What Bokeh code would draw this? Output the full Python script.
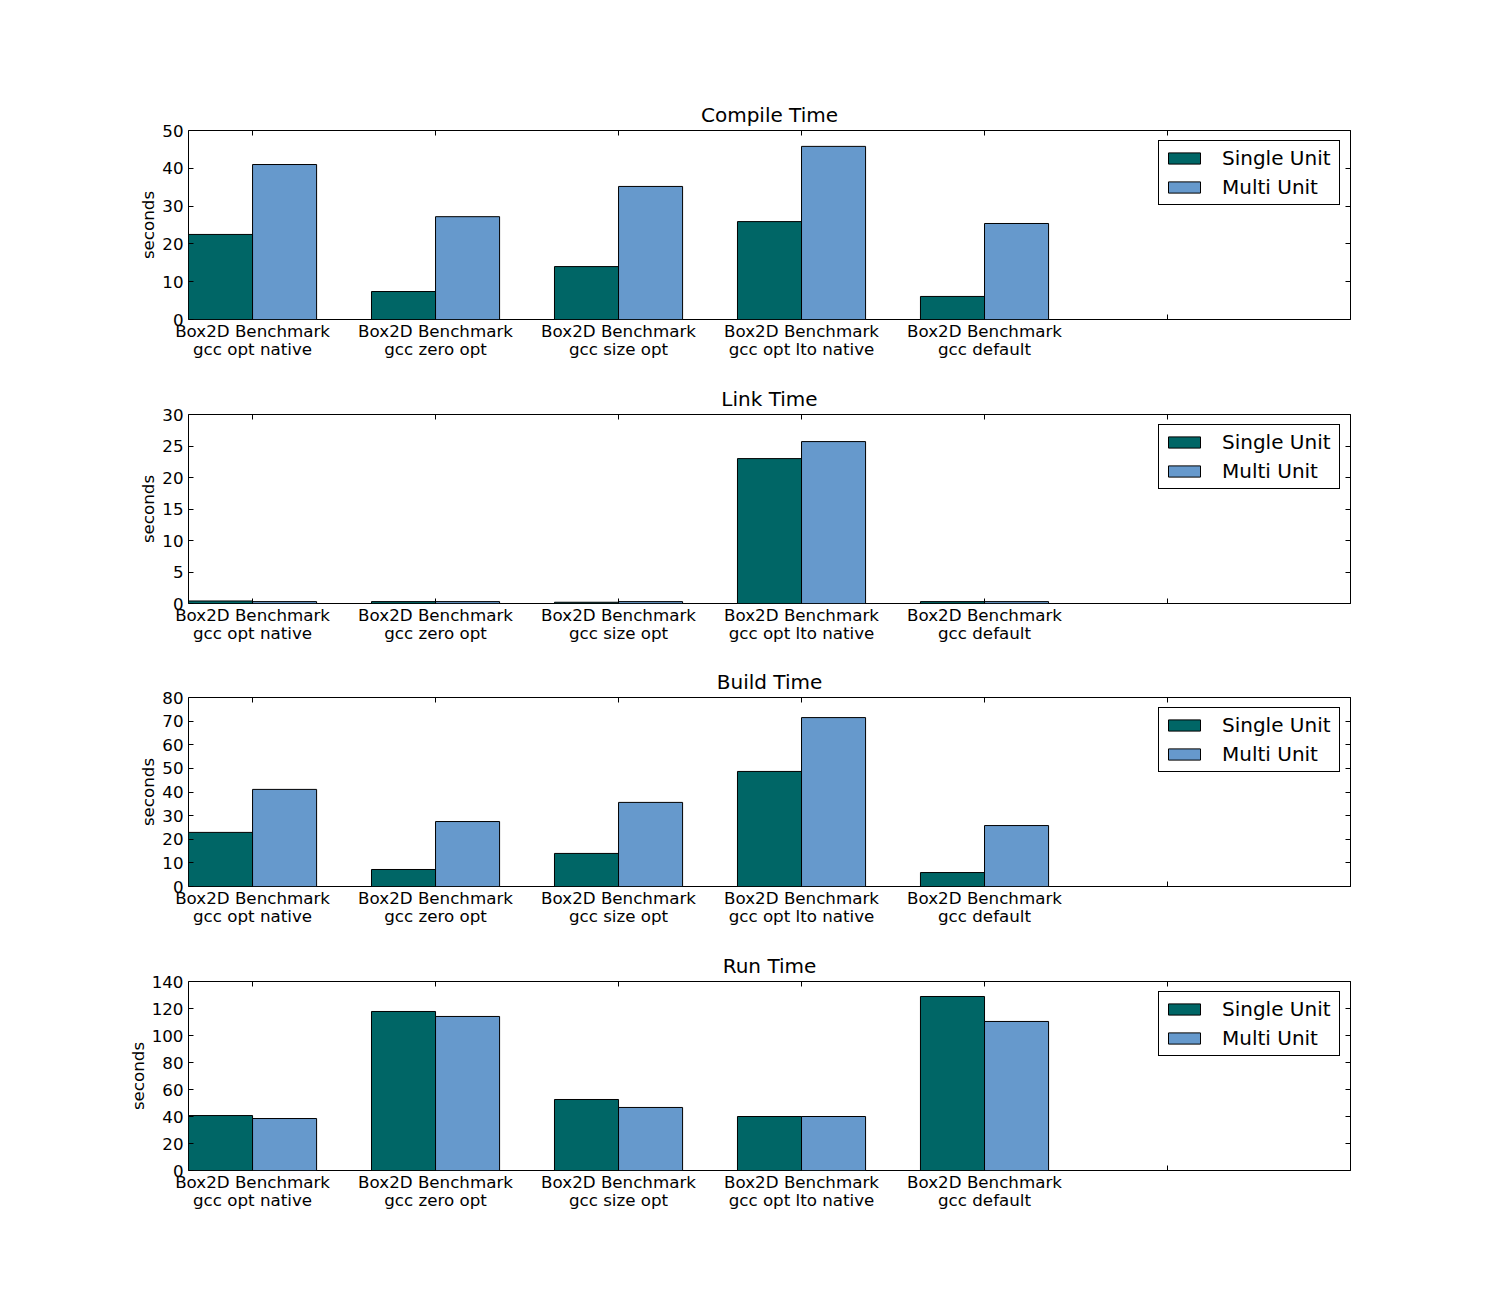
from bokeh.plotting import figure
from bokeh.models import (Range1d, FixedTicker, LinearAxis, Legend, LegendItem,
                          ColumnDataSource, CustomJSTickFormatter)
from bokeh.layouts import column
from bokeh.transform import dodge
from bokeh.embed import file_html
from bokeh.resources import INLINE

categories = ["Box2D Benchmark\ngcc opt native", "Box2D Benchmark\ngcc zero opt",
              "Box2D Benchmark\ngcc size opt", "Box2D Benchmark\ngcc opt lto native",
              "Box2D Benchmark\ngcc default", "", ""]
series_names = ["Single Unit", "Multi Unit"]

compile_single = [22.5, 7.4, 14.0, 25.9, 6.1, 0, 0]
compile_multi = [41.0, 27.2, 35.2, 45.8, 25.4, 0, 0]
link_single = [0.4, 0.3, 0.2, 23.0, 0.3, 0, 0]
link_multi = [0.3, 0.3, 0.3, 25.7, 0.3, 0, 0]
build_single = [22.9, 7.2, 14.0, 48.7, 5.9, 0, 0]
build_multi = [41.1, 27.5, 35.6, 71.5, 25.8, 0, 0]
run_single = [40.7, 117.8, 52.6, 40.0, 128.9, 0, 0]
run_multi = [38.5, 114.1, 46.7, 40.0, 110.4, 0, 0]

titles = ["Compile Time", "Link Time", "Build Time", "Run Time"]
y_max = [50, 30, 80, 140]
y_step = [10, 5, 10, 20]

FONT = "DejaVu Sans"
C_SINGLE = "#006666"
C_MULTI = "#6699CC"
BAR_W = 0.35

top_borders = [130, 45, 44, 45]


def make_panel(title, single, multi, ymax, ystep, top_border):
    idx = list(range(len(categories)))
    src = ColumnDataSource(dict(x=idx, single=single, multi=multi))
    p = figure(frame_width=1162, frame_height=189, min_border_left=188, min_border_right=140,
               min_border_top=top_border, min_border_bottom=50,
               x_range=Range1d(-BAR_W, len(categories) - 1), y_range=Range1d(0, ymax),
               output_backend="svg", toolbar_location=None, title=title)
    p.title.text_font = FONT
    p.title.text_font_size = "20px"
    p.title.text_font_style = "normal"
    p.title.align = "center"
    p.title.text_color = "black"
    p.title.standoff = 8
    p.grid.visible = False
    p.outline_line_color = "black"
    p.outline_line_width = 1
    p.outline_line_alpha = 1
    p.background_fill_color = "white"

    r1 = p.vbar(x=dodge("x", -BAR_W / 2), top="single", width=BAR_W, source=src,
                fill_color=C_SINGLE, line_color="black", line_width=1)
    r2 = p.vbar(x=dodge("x", BAR_W / 2), top="multi", width=BAR_W, source=src,
                fill_color=C_MULTI, line_color="black", line_width=1)

    xt = FixedTicker(ticks=idx)
    yt = FixedTicker(ticks=list(range(0, ymax + 1, ystep)))
    overrides = {i: categories[i] for i in idx}

    for ax in p.xaxis:
        ax.ticker = xt
        ax.major_label_overrides = overrides
    for ax in p.yaxis:
        ax.ticker = yt
        ax.axis_label = "seconds"

    blank = CustomJSTickFormatter(code="return ''")
    p.add_layout(LinearAxis(ticker=xt, formatter=blank), "above")
    p.add_layout(LinearAxis(ticker=yt, formatter=blank), "right")

    for ax in p.axis:
        ax.axis_line_color = None
        ax.major_tick_in = 5
        ax.major_tick_out = 0
        ax.major_tick_line_color = "black"
        ax.minor_tick_line_color = None
        ax.major_label_text_font = FONT
        ax.major_label_text_color = "black"
        ax.axis_label_text_font = FONT
        ax.axis_label_text_font_size = "16.7px"
        ax.axis_label_text_font_style = "normal"
        ax.axis_label_text_color = "black"
    p.below[0].major_label_text_font_size = "16.7px"
    p.below[0].major_label_text_line_height = 0.93
    p.below[0].major_label_standoff = 1
    p.left[0].major_label_text_font_size = "16.7px"
    p.left[0].major_label_standoff = 5
    p.left[0].axis_label_standoff = 1
    p.above[0].major_label_standoff = 0
    p.right[0].major_label_standoff = 0

    legend = Legend(items=[LegendItem(label=series_names[0], renderers=[r1]),
                           LegendItem(label=series_names[1], renderers=[r2])],
                    location="top_right")
    legend.label_text_font = FONT
    legend.label_text_font_size = "20px"
    legend.label_text_color = "black"
    legend.border_line_color = "black"
    legend.border_line_width = 1
    legend.border_line_alpha = 1
    legend.background_fill_alpha = 1
    legend.glyph_width = 40
    legend.glyph_height = 14
    legend.label_standoff = 18
    legend.label_width = 112
    legend.padding = 5
    legend.spacing = 5
    legend.margin = 10
    p.add_layout(legend)
    return p


data = [(compile_single, compile_multi), (link_single, link_multi),
        (build_single, build_multi), (run_single, run_multi)]
panels = [make_panel(titles[i], data[i][0], data[i][1], y_max[i], y_step[i], top_borders[i])
          for i in range(4)]
layout = column(*panels, spacing=0)

open("out.html", "w").write(file_html(layout, INLINE))
